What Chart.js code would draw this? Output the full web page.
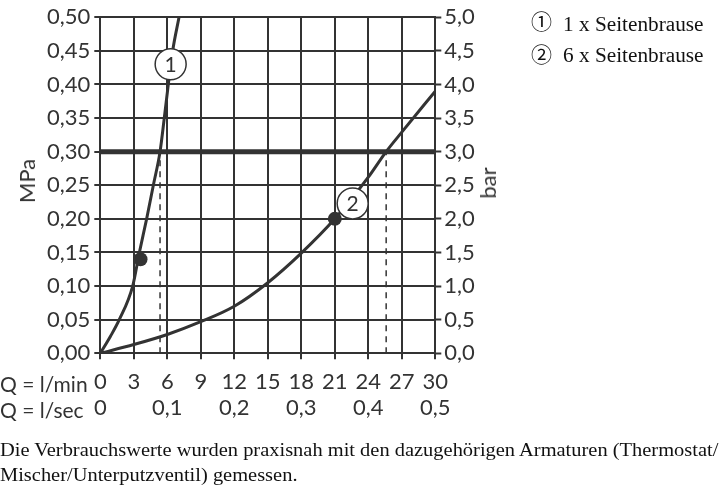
<!DOCTYPE html>
<html>
<head>
<meta charset="utf-8">
<script src="https://cdn.jsdelivr.net/npm/chart.js@4"></script>
<style>
  html, body { margin: 0; padding: 0; background: #fff; }
  #wrap { position: relative; width: 720px; height: 489px; overflow: hidden; }
  #wrap canvas { position: absolute; left: 0; top: 0; }
  .lbl { position: absolute; font-family: Lato, sans-serif; font-size: 22px; color: #333; white-space: nowrap; line-height: 1; }
  .q { font-size: 21px; }
  .rot { transform: translate(-50%, -50%) rotate(-90deg); }
  .num { position: absolute; left: 531px; font-family: "Noto Sans CJK JP", "DejaVu Sans", sans-serif; font-size: 21px; line-height: 1; color: #111; }
  .leg { position: absolute; left: 563px; font-family: "Liberation Serif", "Times New Roman", serif; font-size: 20px; line-height: 20px; color: #111; white-space: nowrap; transform: scaleX(1.063); transform-origin: 0 0; }
  #foot { position: absolute; left: 0; top: 436.5px; font-family: "Liberation Serif", "Times New Roman", serif; font-size: 19px; line-height: 25.5px; color: #111; white-space: nowrap; transform: scaleX(1.076); transform-origin: 0 0; }
</style>
</head>
<body>
<div id="wrap">
  <canvas id="myChart" width="720" height="489"></canvas>
  <div class="lbl rot" style="left:27px; top:181px;">MPa</div>
  <div class="lbl rot" style="left:488px; top:183px;">bar</div>
  <div class="lbl q" style="left:0; top:373px;">Q = l/min</div>
  <div class="lbl q" style="left:0; top:399px;">Q = l/sec</div>
  <div class="num" style="top:10px;">①</div>
  <div class="num" style="top:43px;">②</div>
  <div class="leg" style="top:14.3px;">1 x Seitenbrause</div>
  <div class="leg" style="top:45px;">6 x Seitenbrause</div>
  <div id="foot">Die Verbrauchswerte wurden praxisnah mit den dazugehörigen Armaturen (Thermostat/<br>Mischer/Unterputzventil) gemessen.</div>
</div>
<script>
// Kurve 1: 1 x Seitenbrause (Q in l/min, p in MPa)
const curve1Q = [0, 0.9, 1.7, 2.9, 3.5, 4.15, 4.75, 5.35, 5.73, 6.09, 6.48, 7.05];
const curve1P = [0, 0.025, 0.05, 0.10, 0.15, 0.20, 0.25, 0.30, 0.35, 0.40, 0.45, 0.50];

// Kurve 2: 6 x Seitenbrause
const curve2Q = [0, 3, 6, 9, 12, 15, 18, 21, 24, 25.6, 27, 30];
const curve2P = [0, 0.013, 0.028, 0.047, 0.07, 0.105, 0.149, 0.2, 0.262, 0.3, 0.329, 0.39];

// Betriebspunkte (gefüllte Punkte)
const dotQ = [3.6, 21];
const dotP = [0.14, 0.2];

// Kreis-Markierungen mit Nummer
const markQ = [6.3, 22.6];
const markP = [0.43, 0.223];
const markText = ['1', '2'];

const limitP = 0.3;
const dashQ = [5.35, 25.6];

// Achsen
const xMax = 30, xStep = 3;
const yMax = 0.5, yStep = 0.05;
const barMax = 5, barStep = 0.5;
const secTicks = [0, 6, 12, 18, 24, 30];
const secLabels = ['0', '0,1', '0,2', '0,3', '0,4', '0,5'];

const ink = '#333';
const pts = (xs, ys) => xs.map((x, i) => ({ x: x, y: ys[i] }));

// Zahlen in den Kreisen
const markLabels = {
  id: 'markLabels',
  afterDatasetsDraw(chart) {
    const meta = chart.getDatasetMeta(0);
    const c = chart.ctx;
    c.save();
    c.font = '21px Lato, sans-serif';
    c.fillStyle = ink;
    c.textAlign = 'center';
    c.textBaseline = 'middle';
    meta.data.forEach((el, i) => c.fillText(markText[i], el.x, el.y + 1));
    c.restore();
  }
};

const ctx = document.getElementById('myChart').getContext('2d');

const myChart = new Chart(ctx, {
  type: 'line',
  data: {
    datasets: [
      {
        data: pts(markQ, markP), showLine: false, order: 0,
        pointRadius: 15.5, pointBackgroundColor: '#fff', pointBorderColor: ink, pointBorderWidth: 1.5
      },
      {
        data: pts(dotQ, dotP), showLine: false, order: 1,
        pointRadius: 7, pointBackgroundColor: ink, pointBorderColor: ink, pointBorderWidth: 0
      },
      {
        data: pts(curve1Q, curve1P), order: 2, borderColor: ink, borderWidth: 3,
        pointRadius: 0, cubicInterpolationMode: 'monotone'
      },
      {
        data: pts(curve2Q, curve2P), order: 3, borderColor: ink, borderWidth: 3,
        pointRadius: 0, cubicInterpolationMode: 'monotone'
      },
      {
        data: [{ x: 0, y: limitP }, { x: xMax, y: limitP }], order: 4,
        borderColor: ink, borderWidth: 5, pointRadius: 0
      },
      {
        data: [{ x: dashQ[0], y: 0 }, { x: dashQ[0], y: limitP }], order: 5,
        borderColor: ink, borderWidth: 1.5, borderDash: [6, 5], pointRadius: 0
      },
      {
        data: [{ x: dashQ[1], y: 0 }, { x: dashQ[1], y: limitP }], order: 6,
        borderColor: ink, borderWidth: 1.5, borderDash: [6, 5], pointRadius: 0
      }
    ]
  },
  options: {
    responsive: false,
    animation: false,
    layout: { padding: { top: 13, bottom: 0, left: 0, right: 0 } },
    plugins: { legend: { display: false }, tooltip: { enabled: false } },
    scales: {
      x: {
        type: 'linear', min: 0, max: xMax,
        grid: { color: ink, lineWidth: 2, tickLength: 6, tickWidth: 2, tickColor: ink },
        border: { color: ink, width: 2 },
        ticks: {
          stepSize: xStep, autoSkip: false, maxRotation: 0, padding: 10,
          color: ink, font: { family: 'Lato', size: 22, lineHeight: 1.18 },
          callback: (v) => {
            const k = secTicks.indexOf(v);
            return [String(v), k >= 0 ? secLabels[k] : ''];
          }
        },
        afterFit: (s) => { s.height = 489 - 353.3; }
      },
      y: {
        position: 'left', min: 0, max: yMax,
        grid: { color: ink, lineWidth: 2, tickLength: 6, tickWidth: 2, tickColor: ink },
        border: { color: ink, width: 2 },
        ticks: {
          stepSize: yStep, padding: 4, color: ink, font: { family: 'Lato', size: 22 },
          callback: (v) => v.toFixed(2).replace('.', ',')
        },
        afterFit: (s) => { s.width = 100.3; }
      },
      y2: {
        position: 'right', min: 0, max: barMax,
        grid: { drawOnChartArea: false, color: ink, tickLength: 6, tickWidth: 2, tickColor: ink },
        border: { color: ink, width: 2 },
        ticks: {
          stepSize: barStep, padding: 3, color: ink, font: { family: 'Lato', size: 22 },
          callback: (v) => v.toFixed(1).replace('.', ',')
        },
        afterFit: (s) => { s.width = 720 - 435.3; }
      }
    }
  },
  plugins: [markLabels]
});
</script>
</body>
</html>
